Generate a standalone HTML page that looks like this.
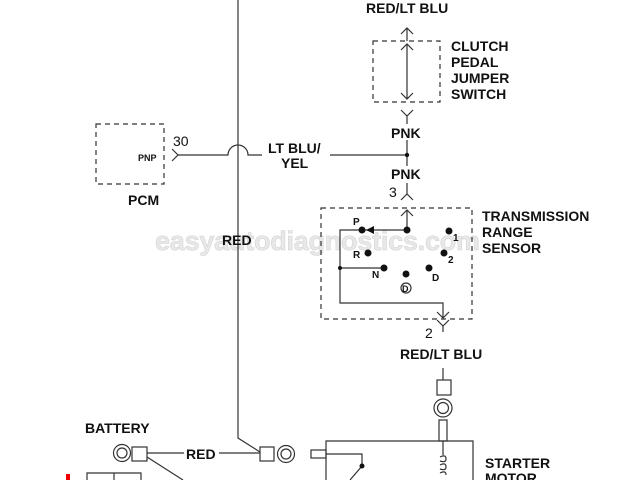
<!DOCTYPE html>
<html><head><meta charset="utf-8"><style>
html,body{margin:0;padding:0;background:#fff;width:640px;height:480px;overflow:hidden}
text{font-family:"Liberation Sans",Arial,sans-serif;font-weight:bold;font-size:14px;fill:#111}
.n{font-weight:normal}
</style></head><body>
<svg width="640" height="480" viewBox="0 0 640 480" xmlns="http://www.w3.org/2000/svg">
<text x="155" y="250" style="font-size:27px;fill:#e8e8e8;stroke:#d4d4d4;stroke-width:0.6" textLength="325">easyautodiagnostics.com</text>
<g fill="none" stroke="#333" stroke-width="1.2">
<path d="M238 0 V438 L260 452"/>
<rect x="96" y="124" width="68" height="60" stroke-dasharray="5,4"/>
<path d="M172 149 L178 155 L172 161"/>
<path d="M178 155 H228 A10 10 0 0 1 248 155 H262"/>
<path d="M330 155 H407"/>
<path d="M401 34 L407 28 L413 34 M407 28 V41"/>
<rect x="373" y="41" width="67" height="61" stroke-dasharray="5,4"/>
<path d="M407 44 V99 M401 50 L407 44 L413 50 M401 93 L407 99 L413 93"/>
<path d="M401 110 L407 116 L413 110 M407 116 V124"/>
<path d="M407 140 V166"/>
<path d="M407 183 V194 M401 200 L407 194 L413 200"/>
<rect x="321" y="208" width="151" height="111" stroke-dasharray="5,4"/>
<path d="M401 216 L407 210 L413 216 M407 210 V230"/>
<path d="M407 230 H340 V303 H443 V318 M437 312 L443 318 L449 312"/>
<path d="M340 268 H384"/>
<path d="M443 326 L443 332 M437 320 L443 326 L449 320"/>
<circle cx="406" cy="288" r="5"/>
<path d="M443 368 V380"/>
<rect x="437" y="380" width="14" height="15"/>
<circle cx="443" cy="408" r="9"/><circle cx="443" cy="408" r="5.5"/>
<rect x="439" y="420" width="8" height="21"/>
<path d="M326 480 V441 H473 V480"/>
<path d="M443 441 V455"/>
<path d="M440 457 q6 -3 6 2 q0 4 -6 2 M440 465 q6 -3 6 2 q0 4 -6 2 M440 473 q6 -3 6 2"/>
<circle cx="122" cy="453" r="8.5"/><circle cx="122" cy="453" r="5"/>
<rect x="132" y="447" width="15" height="14"/>
<path d="M147 453 H184 M219 453 H260 M147 457 L183 480"/>
<rect x="260" y="447" width="14" height="14"/>
<circle cx="286" cy="454" r="8.5"/><circle cx="286" cy="454" r="5"/>
<rect x="311" y="450" width="15" height="8"/>
<path d="M326 454 H362 V466 L350 480"/>
<path d="M87 480 V473 H141 V480 M114 473 V480"/>
</g>
<g fill="#111">
<circle cx="407" cy="155" r="2.2"/>
<circle cx="407" cy="230" r="3.5"/>
<circle cx="362" cy="230" r="3.5"/>
<path d="M366 230 L374 226 L374 234 Z"/>
<circle cx="340" cy="268" r="2"/>
<circle cx="368" cy="253" r="3.5"/>
<circle cx="384" cy="268" r="3.5"/>
<circle cx="406" cy="274" r="3.5"/>
<circle cx="429" cy="268" r="3.5"/>
<circle cx="449" cy="231" r="3.5"/>
<circle cx="444" cy="253" r="3.5"/>
<circle cx="362" cy="466" r="2.5"/>
</g>
<rect x="66" y="474" width="4" height="6" fill="#e00"/>
<text x="138" y="161" style="font-size:9px">PNP</text>
<text x="173" y="146" class="n">30</text>
<text x="128" y="205">PCM</text>
<text x="268" y="153">LT BLU/</text>
<text x="281" y="168">YEL</text>
<text x="366" y="13">RED/LT BLU</text>
<text x="451" y="51">CLUTCH</text>
<text x="451" y="67">PEDAL</text>
<text x="451" y="83">JUMPER</text>
<text x="451" y="99">SWITCH</text>
<text x="391" y="138">PNK</text>
<text x="391" y="179">PNK</text>
<text x="389" y="197" class="n">3</text>
<text x="482" y="221">TRANSMISSION</text>
<text x="482" y="237">RANGE</text>
<text x="482" y="253">SENSOR</text>
<text x="353" y="225" style="font-size:10px">P</text>
<text x="353" y="258" style="font-size:10px">R</text>
<text x="372" y="278" style="font-size:10px">N</text>
<text x="432" y="281" style="font-size:10px">D</text>
<text x="453" y="241" style="font-size:10px">1</text>
<text x="448" y="263" style="font-size:10px">2</text>
<text x="402" y="292" style="font-size:9px">D</text>
<text x="425" y="338" class="n">2</text>
<text x="400" y="359">RED/LT BLU</text>
<text x="222" y="245">RED</text>
<text x="85" y="433">BATTERY</text>
<text x="186" y="459">RED</text>
<text x="485" y="468">STARTER</text>
<text x="485" y="483">MOTOR</text>
</svg>
</body></html>
